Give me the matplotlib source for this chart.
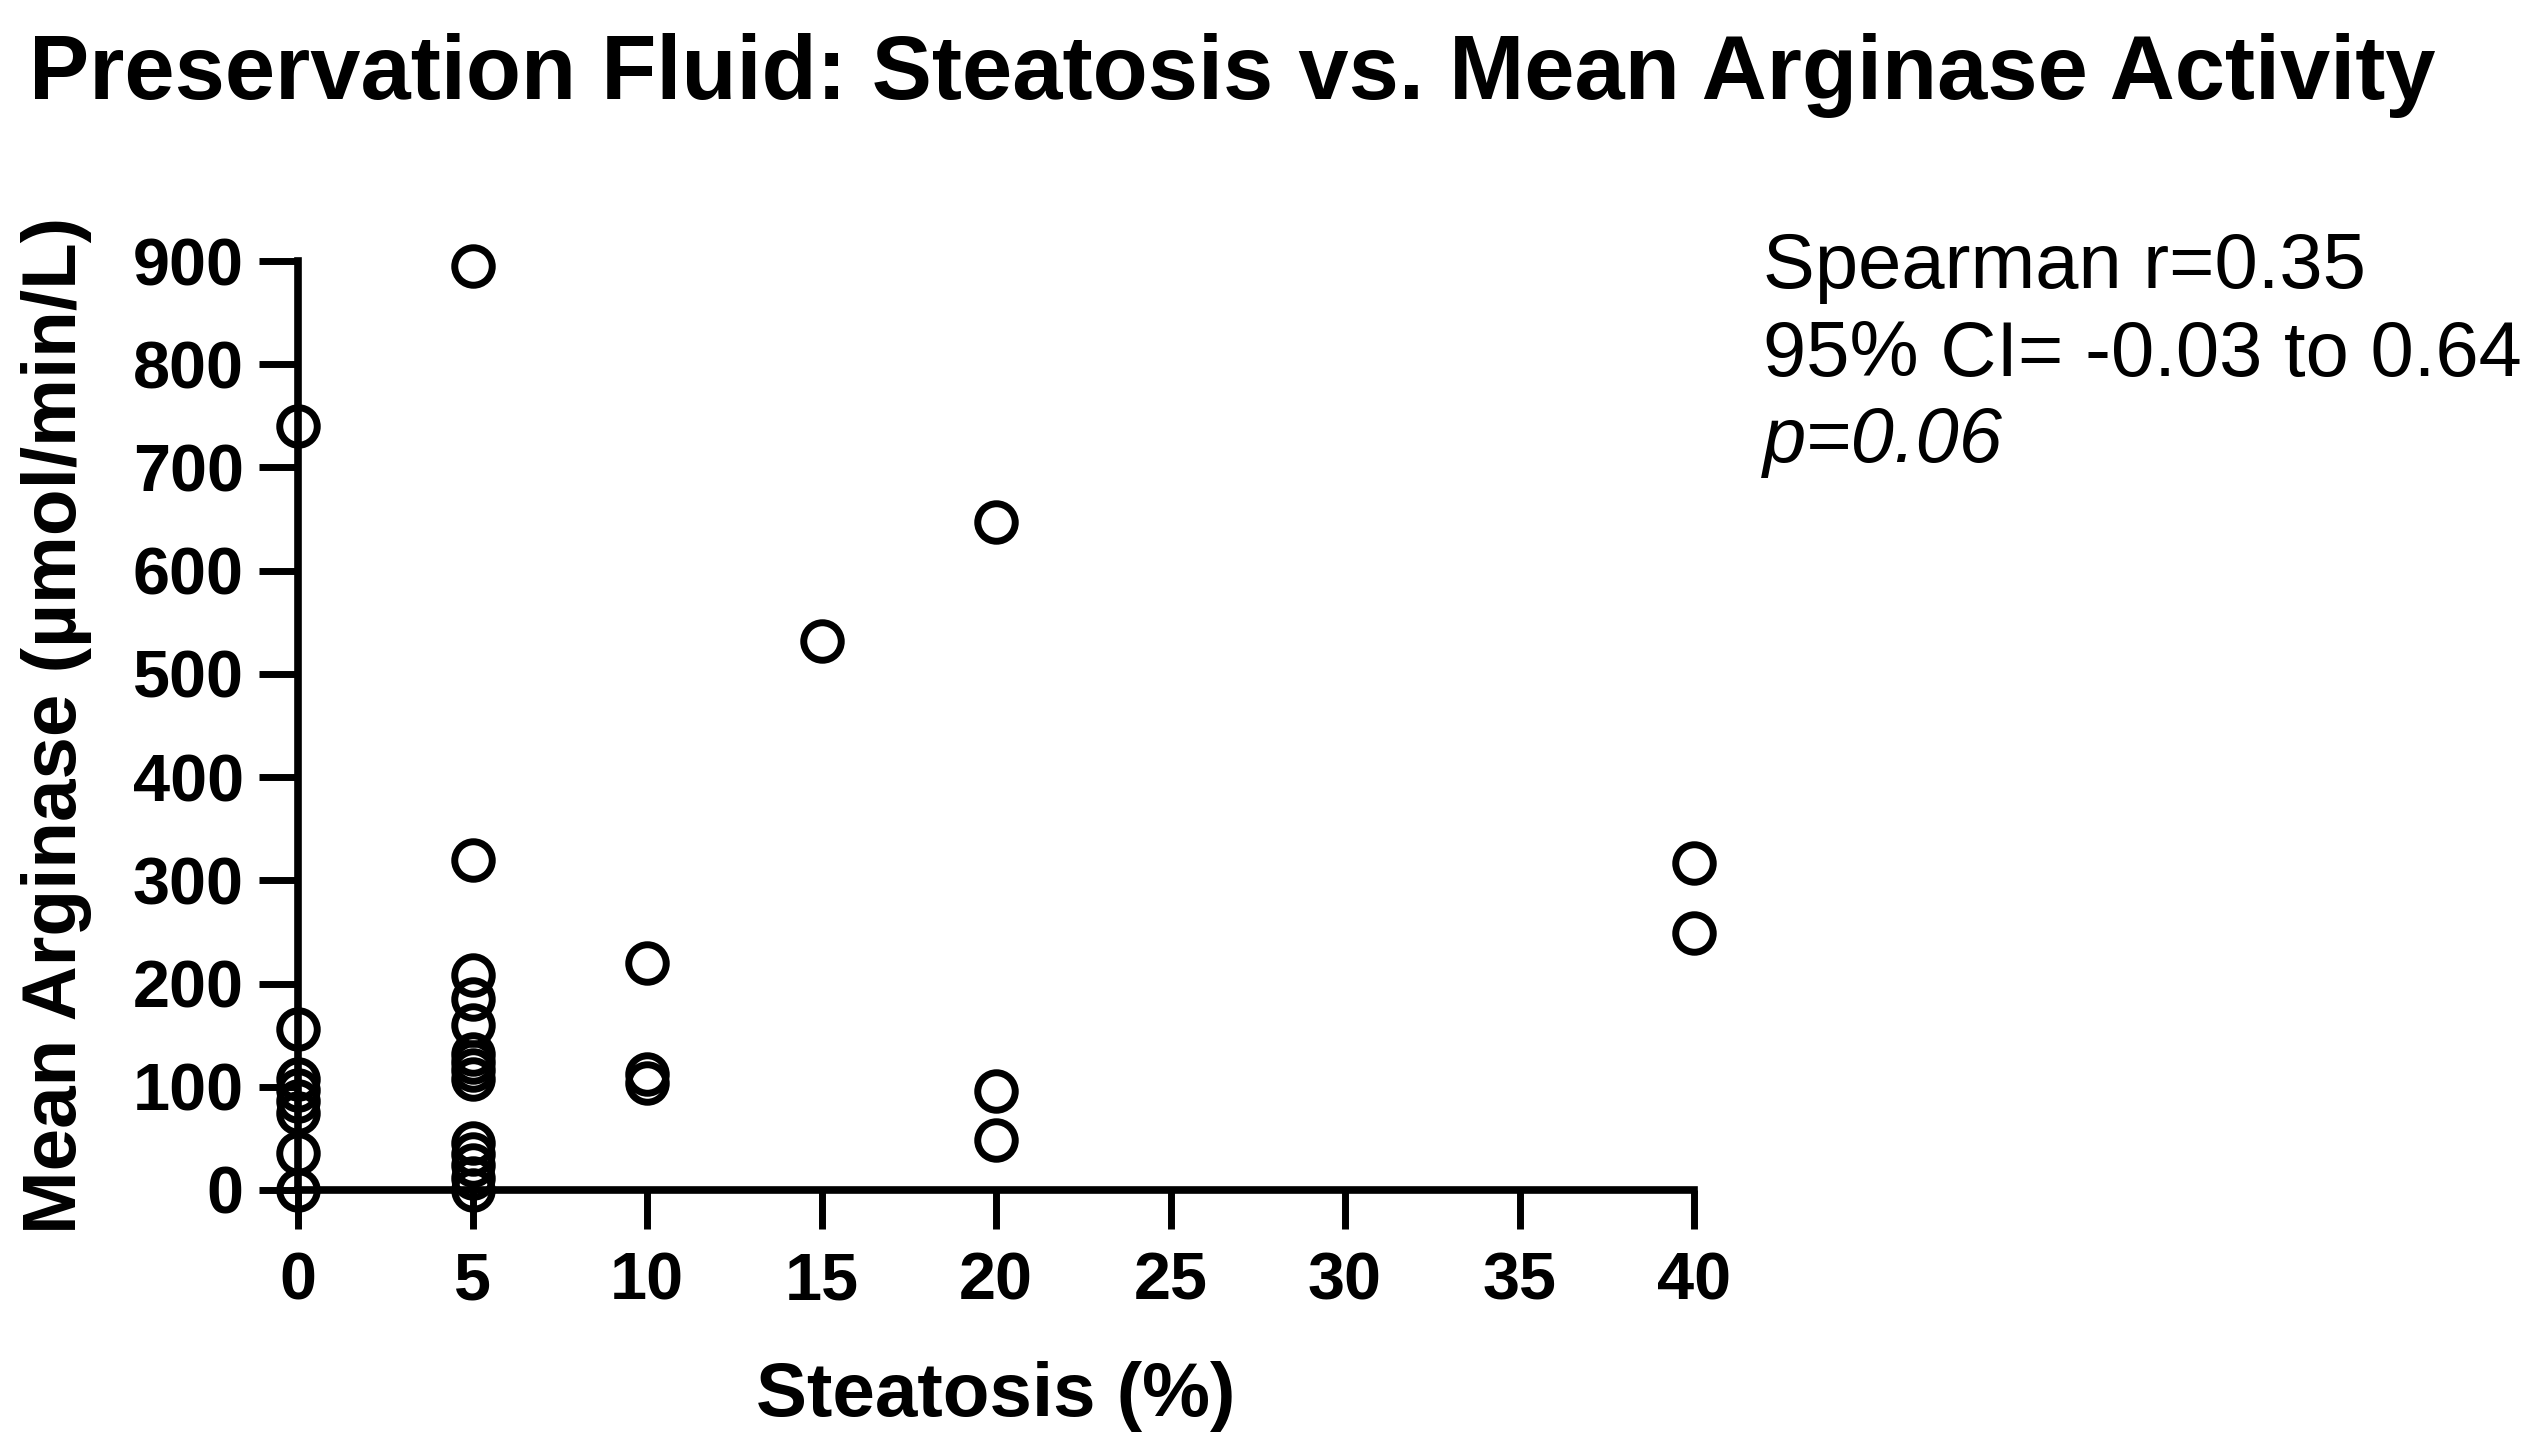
import matplotlib
matplotlib.use("Agg")
import matplotlib.pyplot as plt
from matplotlib import font_manager

# steatosis (%) and mean arginase (umol/min/L)
steatosis = [0, 0, 0, 0, 0, 0, 0, 0,
             5, 5, 5, 5, 5, 5, 5, 5, 5, 5, 5, 5, 5, 5,
             10, 10, 10,
             15,
             20, 20, 20,
             40, 40]
arginase = [740, 156, 108, 97, 86, 75, 36, 0,
            895, 320, 208, 185, 160, 132, 124, 116, 108, 46, 35, 24, 12, 0,
            220, 112, 104,
            532,
            647, 96, 48,
            317, 249]

x_ticks = [0, 5, 10, 15, 20, 25, 30, 35, 40]
y_ticks = [0, 100, 200, 300, 400, 500, 600, 700, 800, 900]

stats_lines = ["Spearman r=0.35", "95% CI= -0.03 to 0.64", "p=0.06"]


def pick_font(names):
    for n in names:
        try:
            font_manager.findfont(n, fallback_to_default=False)
            return n
        except Exception:
            pass
    return "DejaVu Sans"


base = pick_font(["Liberation Sans", "Arial"])
plt.rcParams["font.family"] = base

fig = plt.figure(figsize=(25.41, 14.54), dpi=100)
W, H = 2541, 1454
ax = fig.add_axes([298 / W, (H - 1190) / H, (1694 - 298) / W, (1190 - 261) / H])

ax.plot(steatosis, arginase, linestyle="none", marker="o", markersize=27,
        markerfacecolor="none", markeredgecolor="black", markeredgewidth=5,
        clip_on=False, zorder=3)

ax.set_xlim(0, 40)
ax.set_ylim(0, 900)
ax.set_xticks(x_ticks)
ax.set_yticks(y_ticks)
for s in ["top", "right"]:
    ax.spines[s].set_visible(False)
for s in ["left", "bottom"]:
    ax.spines[s].set_linewidth(5.5)
ax.tick_params(axis="both", length=28, width=5, direction="out", labelsize=48)
ax.tick_params(axis="y", pad=11)
ax.tick_params(axis="x", pad=16)
for lab in ax.get_xticklabels() + ax.get_yticklabels():
    lab.set_fontweight("bold")

fig.text(996 / W, 1 - 1397 / H, "Steatosis (%)",
         ha="center", va="center", fontsize=55, fontweight="bold")
fig.text(57 / W, 1 - 725 / H, "Mean Arginase (\u00b5mol/min/L)", rotation=90,
         ha="center", va="center", fontsize=55, fontweight="bold")

fig.text(29 / W, 1 - 75 / H, "Preservation Fluid: Steatosis vs. Mean Arginase Activity",
         ha="left", va="center", fontsize=65, fontweight="bold")

ys = [288, 376, 462]
for txt, yy in zip(stats_lines, ys):
    fig.text(1763 / W, 1 - yy / H, txt, ha="left", va="baseline", fontsize=56,
             style="italic" if txt.startswith("p=") else "normal")

fig.savefig("out.png", dpi=100, facecolor="white")
